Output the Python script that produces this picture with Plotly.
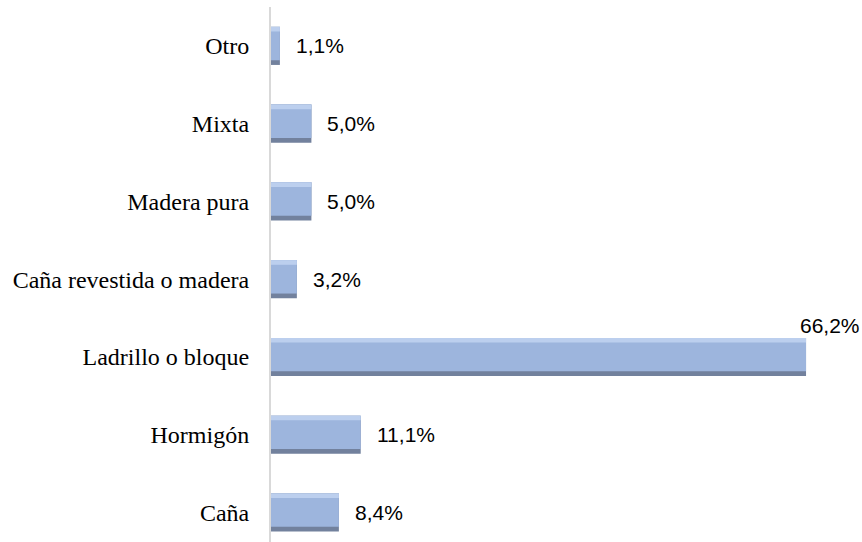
import plotly.graph_objects as go

categories = ["Caña", "Hormigón", "Ladrillo o bloque", "Caña revestida o madera",
              "Madera pura", "Mixta", "Otro"]
values = [8.4, 11.1, 66.2, 3.2, 5.0, 5.0, 1.1]
labels = ["8,4%", "11,1%", "66,2%", "3,2%", "5,0%", "5,0%", "1,1%"]

W = 0.49
fig = go.Figure()
# dark lower edge (bevel)
fig.add_trace(go.Bar(
    x=values, y=categories, orientation="h",
    marker=dict(color="#72819d", line=dict(width=0)),
    width=W, offset=-W / 2, hoverinfo="skip",
))
# main body
fig.add_trace(go.Bar(
    x=values, y=categories, orientation="h",
    marker=dict(color="#9db5dd", line=dict(width=0)),
    width=W - 0.06, offset=-W / 2 + 0.06, hoverinfo="skip",
))
# light top highlight
fig.add_trace(go.Bar(
    x=values, y=categories, orientation="h",
    marker=dict(color="#bccfee", line=dict(width=0)),
    width=0.06, offset=W / 2 - 0.06, hoverinfo="skip",
))

for v, c, t in zip(values, categories, labels):
    big = v == max(values)
    fig.add_annotation(
        x=v, y=c, text=t, showarrow=False, xanchor="left",
        xshift=-8 if big else 14, yshift=31 if big else 0,
        font=dict(family="Liberation Sans, Arial", size=21, color="#000000"),
    )

fig.update_layout(
    width=862, height=542,
    margin=dict(l=271, r=1, t=7, b=0),
    paper_bgcolor="white", plot_bgcolor="white",
    showlegend=False, barmode="overlay",
    xaxis=dict(range=[0, 73], visible=False),
    yaxis=dict(
        type="category", categoryorder="array", categoryarray=categories,
        range=[-0.38, 6.5], automargin=False,
        showline=True, linecolor="#d9d9d9", linewidth=2,
        showgrid=False, ticks="", ticklabelstandoff=15,
        tickfont=dict(family="Liberation Serif, Times New Roman", size=24, color="#000000"),
    ),
)

fig.write_html("out.html", config={"displayModeBar": False},
               post_script="document.body.style.margin='0';")
